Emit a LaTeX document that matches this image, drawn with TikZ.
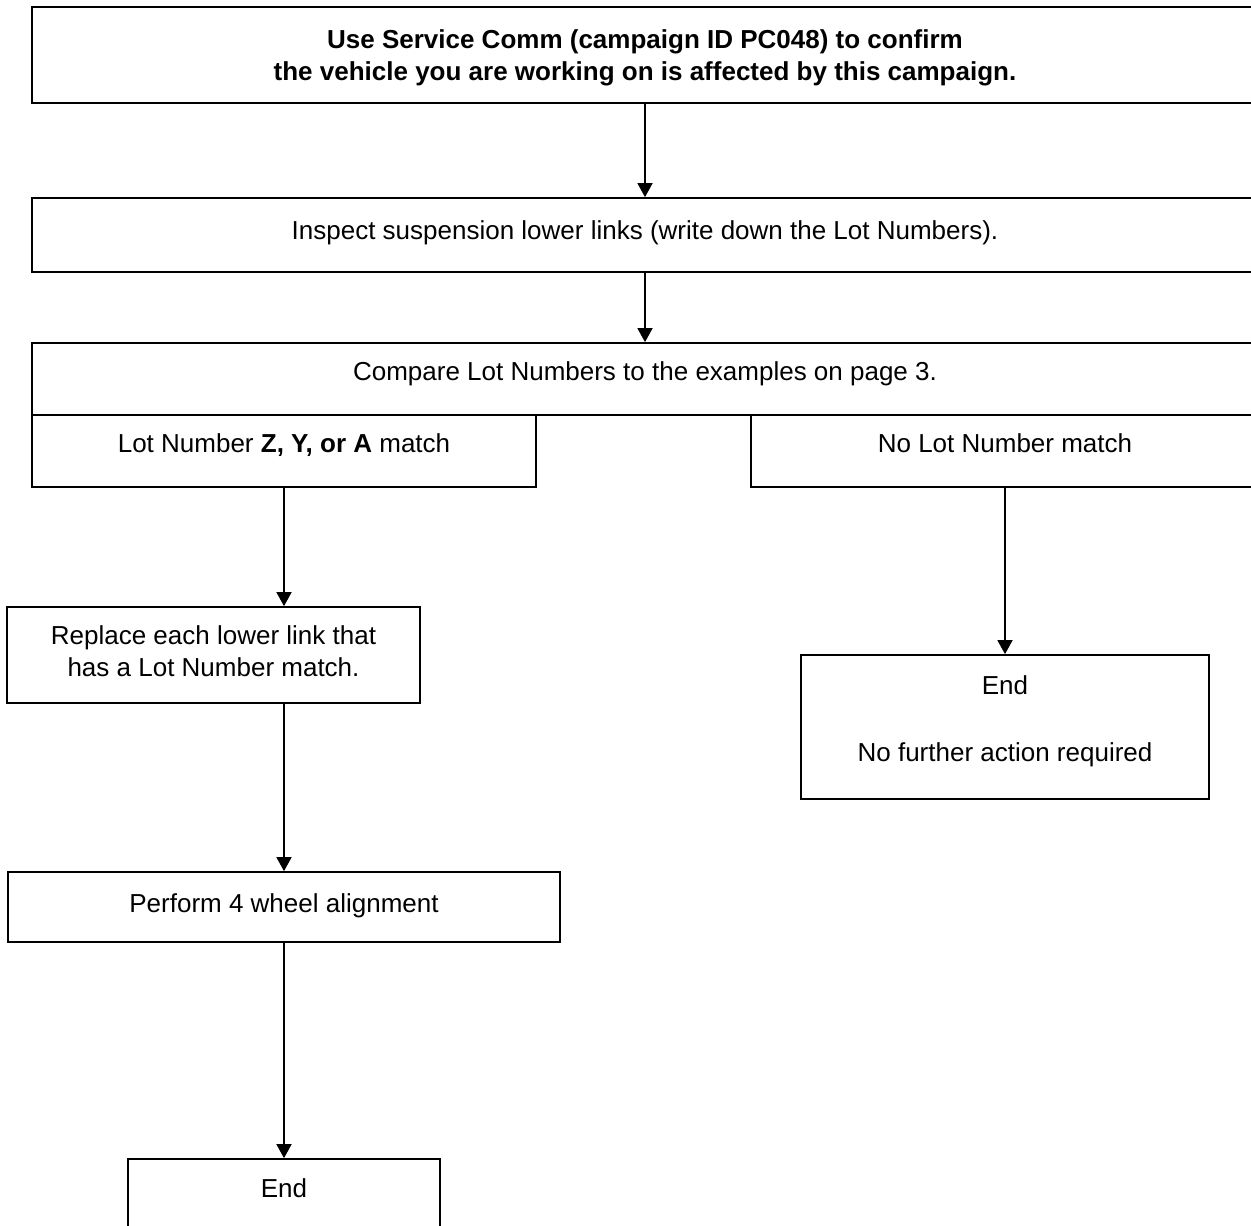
\documentclass[tikz,border=0pt]{standalone}
\usepackage{fontspec}
\setmainfont{Liberation Sans}
\usetikzlibrary{arrows.meta}
% \boxtext{width}{height}{first baseline from top}{text}
\newcommand\boxtext[4]{\parbox[c][#2pt][t]{#1pt}{\centering\vspace*{\dimexpr#3pt-20pt\relax}\rule{0pt}{20pt}#4\par}}
\begin{document}
\begin{tikzpicture}[x=1pt,y=-1pt,
  box/.style={draw,line width=1.7pt,inner sep=0pt,font=\fontsize{26}{32}\selectfont},
  arr/.style={line width=1.5pt,-{Triangle[length=14pt,width=15pt]}}]
\useasboundingbox (0,0) rectangle (1251,1226);
\node[box,font=\bfseries\fontsize{26}{32}\selectfont] (top) at (645,55)
  {\boxtext{1226}{96}{41}{Use Service Comm (campaign ID PC048) to confirm\\the vehicle you are working on is affected by this campaign.}};
\node[box] (inspect) at (645,235)
  {\boxtext{1226}{74}{41}{Inspect suspension lower links (write down the Lot Numbers).}};
\node[box] (compare) at (645,379)
  {\boxtext{1226}{72}{37}{Compare Lot Numbers to the examples on page 3.}};
\node[box] (lotz) at (284,451)
  {\boxtext{504}{72}{37}{Lot Number \textbf{Z, Y, or A} match}};
\node[box] (nolot) at (1005,451)
  {\boxtext{508}{72}{37}{No Lot Number match}};
\node[box] (replace) at (213.5,655)
  {\boxtext{413}{96}{37}{Replace each lower link that\\has a Lot Number match.}};
\node[box] (endR) at (1005,727)
  {\boxtext{408}{144}{39}{End\\[35pt]No further action required}};
\node[box] (perform) at (284,907)
  {\boxtext{552}{70}{40}{Perform 4 wheel alignment}};
\node[box] (endL) at (284,1209)
  {\boxtext{312}{100}{38}{End}};
\draw[arr] (top.south) -- (inspect.north);
\draw[arr] (inspect.south) -- (compare.north);
\draw[arr] (lotz.south) -- (lotz.south |- replace.north);
\draw[arr] (nolot.south) -- (endR.north);
\draw[arr] (lotz.south |- replace.south) -- (perform.north);
\draw[arr] (perform.south) -- (endL.north);
\end{tikzpicture}
\end{document}
